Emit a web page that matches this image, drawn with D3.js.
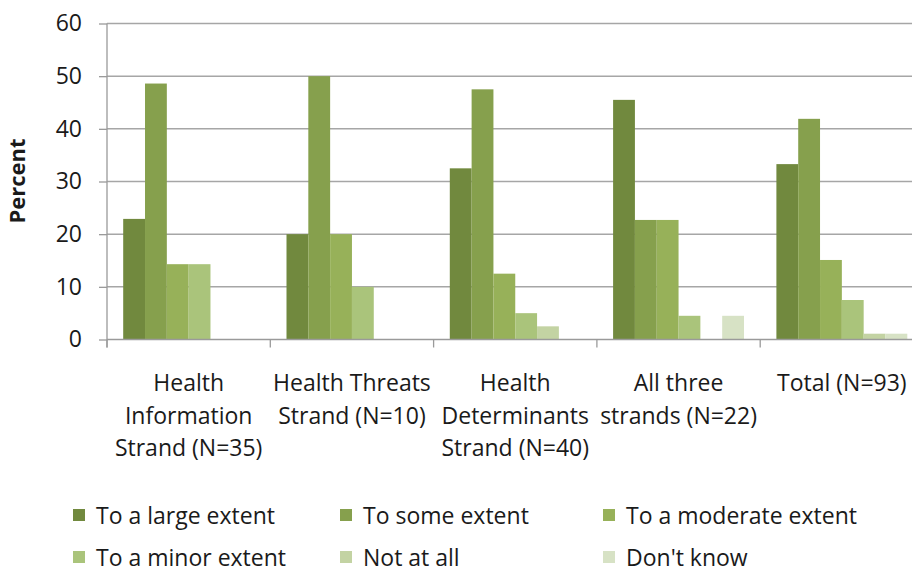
<!DOCTYPE html>
<html>
<head>
<meta charset="utf-8">
<script src="https://cdn.jsdelivr.net/npm/d3@7"></script>
<style>
  html, body { margin: 0; padding: 0; background: #fff; }
  svg { display: block; }
  text { font-family: "Open Sans", "DejaVu Sans", sans-serif; fill: #1a1a1a; }
</style>
</head>
<body>
<svg id="chart" width="912" height="573"></svg>
<script>
// ---- data ----
const categories = [
  "Health Information Strand (N=35)",
  "Health Threats Strand (N=10)",
  "Health Determinants Strand (N=40)",
  "All three strands (N=22)",
  "Total (N=93)"
];
const categoryLabelLines = [
  ["Health", "Information", "Strand (N=35)"],
  ["Health Threats", "Strand (N=10)"],
  ["Health", "Determinants", "Strand (N=40)"],
  ["All three", "strands (N=22)"],
  ["Total (N=93)"]
];
const seriesNames = [
  "To a large extent",
  "To some extent",
  "To a moderate extent",
  "To a minor extent",
  "Not at all",
  "Don't know"
];
const largeExtent    = [22.9, 20.0, 32.5, 45.5, 33.3];
const someExtent     = [48.6, 50.0, 47.5, 22.7, 41.9];
const moderateExtent = [14.3, 20.0, 12.5, 22.7, 15.1];
const minorExtent    = [14.3, 10.0,  5.0,  4.5,  7.5];
const notAtAll       = [ 0.0,  0.0,  2.5,  0.0,  1.1];
const dontKnow       = [ 0.0,  0.0,  0.0,  4.5,  1.1];
const yTicks = [0, 10, 20, 30, 40, 50, 60];
const yLabel = "Percent";

// ---- styles ----
const seriesColors = ["#71893e", "#86a04d", "#97b159", "#aac47b", "#c3d3a3", "#d7e2c5"];
const seriesValues = [largeExtent, someExtent, moderateExtent, minorExtent, notAtAll, dontKnow];

(function () {
const svg = d3.select("#chart");
const plotLeft = 107, plotBottom = 339.5, plotTop = 23.5;
const catStep = 163.3;

const x0 = d3.scaleBand().domain(categories).range([plotLeft, plotLeft + catStep * categories.length]).padding(0);
const x1 = d3.scaleBand().domain(seriesNames).range([16.2, x0.bandwidth() - 16.2]).padding(0);
const y = d3.scaleLinear().domain([0, 60]).range([plotBottom, plotTop]);

// gridlines
svg.append("g").selectAll("line")
  .data(yTicks.filter(t => t > 0))
  .join("line")
  .attr("x1", plotLeft).attr("x2", 912)
  .attr("y1", d => y(d)).attr("y2", d => y(d))
  .attr("stroke", "#a6a6a6").attr("stroke-width", 1.5);

// bars
const rows = [];
categories.forEach((c, ci) => {
  seriesNames.forEach((s, si) => {
    rows.push({ c, s, si, v: seriesValues[si][ci] });
  });
});
svg.append("g").selectAll("rect")
  .data(rows.filter(d => d.v > 0))
  .join("rect")
  .attr("x", d => x0(d.c) + x1(d.s))
  .attr("y", d => y(d.v))
  .attr("width", x1.bandwidth())
  .attr("height", d => y(0) - y(d.v))
  .attr("fill", d => seriesColors[d.si]);

// y axis
const yAxis = d3.axisLeft(y).tickValues(yTicks).tickSize(8).tickPadding(17).tickSizeOuter(0);
const yg = svg.append("g").attr("transform", `translate(${plotLeft},0)`).call(yAxis);
yg.select(".domain").attr("stroke", "#9a9a9a").attr("stroke-width", 1.3)
  .attr("d", `M0,${plotTop}V${plotBottom + 8}`);
yg.selectAll(".tick line").attr("stroke", "#9a9a9a").attr("stroke-width", 1.3);
yg.selectAll(".tick text")
  .style("font-family", "'Open Sans', sans-serif")
  .style("font-size", "23px")
  .attr("fill", "#1a1a1a");

// x axis line and boundary ticks
svg.append("line")
  .attr("x1", plotLeft).attr("x2", 912)
  .attr("y1", plotBottom).attr("y2", plotBottom)
  .attr("stroke", "#9a9a9a").attr("stroke-width", 1.5);
svg.append("g").selectAll("line")
  .data(categories)
  .join("line")
  .attr("x1", d => x0(d)).attr("x2", d => x0(d))
  .attr("y1", plotBottom).attr("y2", plotBottom + 8)
  .attr("stroke", "#9a9a9a").attr("stroke-width", 1.3);

// category labels
const lg = svg.append("g");
categories.forEach((c, ci) => {
  const cx = x0(c) + x0.bandwidth() / 2;
  const t = lg.append("text")
    .attr("x", cx)
    .attr("y", 391)
    .attr("text-anchor", "middle")
    .style("font-size", "23px");
  categoryLabelLines[ci].forEach((line, li) => {
    t.append("tspan")
      .attr("x", cx)
      .attr("dy", li === 0 ? 0 : 32.5)
      .text(line);
  });
});

// y label
svg.append("text")
  .attr("transform", "translate(25,181) rotate(-90)")
  .attr("text-anchor", "middle")
  .style("font-size", "22px")
  .style("font-weight", "bold")
  .text(yLabel);

// legend
const legendX = [73, 340, 603];
const legendY = [516, 558];
const leg = svg.append("g");
seriesNames.forEach((s, i) => {
  const col = i % 3, row = Math.floor(i / 3);
  const g = leg.append("g").attr("transform", `translate(${legendX[col]},${legendY[row]})`);
  g.append("rect").attr("x", 0).attr("y", -7).attr("width", 12).attr("height", 12)
    .attr("fill", seriesColors[i]);
  g.append("text").attr("x", 23).attr("y", 8)
    .style("font-size", "23px")
    .text(s);
});
})();
</script>
</body>
</html>
